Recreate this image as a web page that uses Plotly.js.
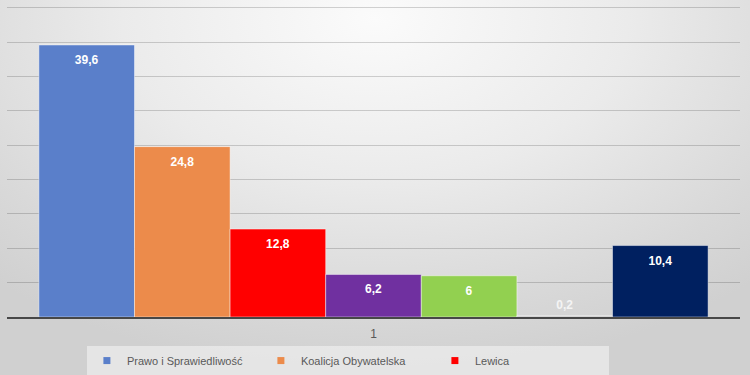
<!DOCTYPE html>
<html>
<head>
<meta charset="utf-8">
<script src="https://cdn.plot.ly/plotly-3.0.1.min.js"></script>
<style>
  html, body { margin:0; padding:0; }
  body { width:750px; height:375px; overflow:hidden;
    background: radial-gradient(ellipse 75% 95% at 50% 5%, #fbfbfb 0%, #ebebeb 45%, #d9d9d9 80%, #d0d0d0 100%); }
  #chart { width:750px; height:375px; }
</style>
</head>
<body>
<div id="chart"></div>
<script>
const category = ['1'];
const parties = ['Prawo i Sprawiedliwość', 'Koalicja Obywatelska', 'Lewica', 'Konfederacja', 'Koalicja Polska', 'Inne', 'Niezdecydowani'];
const values = [39.6, 24.8, 12.8, 6.2, 6, 0.2, 10.4];
const colors = ['#5a7fca', '#ec8b4b', '#ff0000', '#7030a0', '#92d050', '#c8c8c8', '#002060'];
const legendShown = [true, true, true, false, false, false, false];

const traces = parties.map((name, i) => ({
  type: 'bar',
  name: name,
  x: category,
  y: [values[i]],
  text: [String(values[i]).replace('.', ',')],
  textposition: 'auto',
  insidetextanchor: 'end',
  constraintext: 'none',
  textfont: { family: 'Liberation Sans, Arial, sans-serif', size: 12, color: '#ffffff', weight: 'bold' },
  outsidetextfont: { family: 'Liberation Sans, Arial, sans-serif', size: 12, color: '#f4f4f4', weight: 'bold' },
  marker: { color: colors[i], line: { color: 'rgba(255,255,255,0.45)', width: 1 } },
  showlegend: false,
  hoverinfo: 'none'
}));

// legend entries (small square markers)
parties.forEach((name, i) => {
  if (!legendShown[i]) return;
  traces.push({
    type: 'scatter', mode: 'markers', name: name,
    x: [null], y: [null],
    marker: { symbol: 'square', size: 7, color: colors[i] },
    showlegend: true, hoverinfo: 'none'
  });
});

const layout = {
  width: 750, height: 375,
  margin: { l: 7, r: 10, t: 1, b: 58, autoexpand: false },
  paper_bgcolor: 'rgba(0,0,0,0)',
  plot_bgcolor: 'rgba(0,0,0,0)',
  barmode: 'group',
  bargap: 0.087,
  bargroupgap: 0,
  font: { family: 'Liberation Sans, Arial, sans-serif', color: '#595959', size: 12 },
  xaxis: {
    type: 'category',
    showline: true, linecolor: '#474747', linewidth: 2,
    showgrid: false, zeroline: false,
    ticks: '', ticklabelstandoff: 5,
    tickfont: { size: 12, color: '#595959' },
    fixedrange: true
  },
  yaxis: {
    range: [0, 46], dtick: 5,
    showticklabels: false, ticks: '',
    showgrid: true, gridcolor: 'rgba(0,0,0,0.17)', gridwidth: 1,
    zeroline: false, showline: false,
    fixedrange: true
  },
  showlegend: true,
  legend: {
    orientation: 'h',
    x: 0.109, xanchor: 'left',
    y: -0.092, yanchor: 'top',
    bgcolor: 'rgba(245,245,245,0.55)',
    borderwidth: 0,
    entrywidth: 129, entrywidthmode: 'pixels',
    font: { size: 11, color: '#595959' },
    itemclick: false, itemdoubleclick: false
  }
};

Plotly.newPlot('chart', traces, layout, { displayModeBar: false, staticPlot: true }).then(() => {
  // nudge value labels to sit like the reference (inside ones lower, outside one higher)
  document.querySelectorAll('#chart text.bartext').forEach(t => {
    const dy = t.classList.contains('bartext-outside') ? -1 : 5;
    const tr = t.getAttribute('transform') || '';
    t.setAttribute('transform', 'translate(0,' + dy + ') ' + tr);
  });
});
</script>
</body>
</html>
